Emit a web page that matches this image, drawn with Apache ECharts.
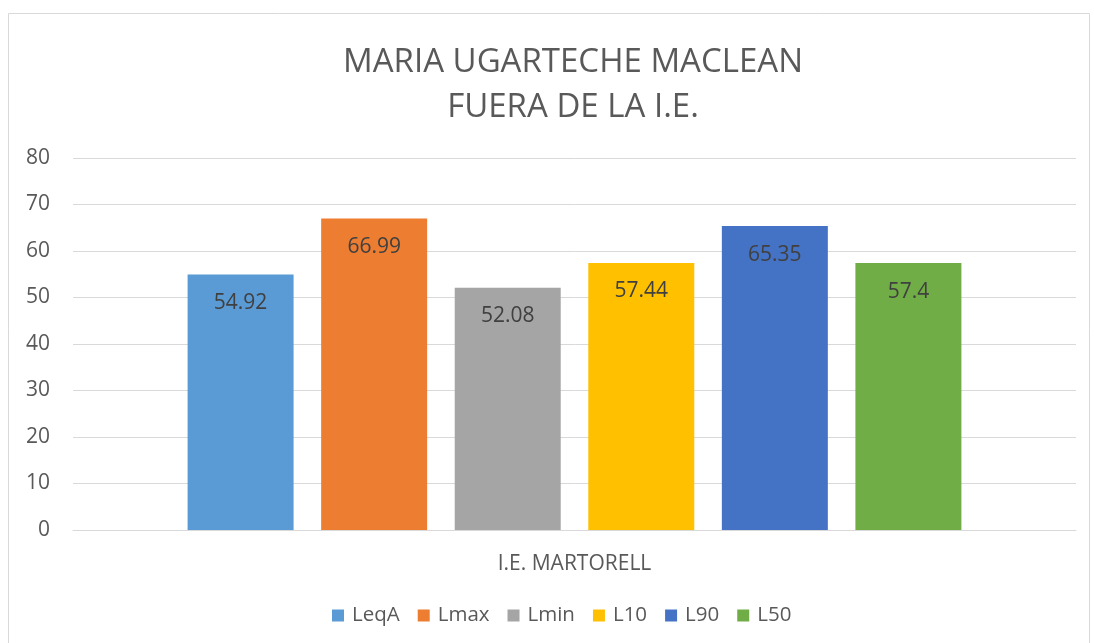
<!DOCTYPE html>
<html>
<head>
<meta charset="utf-8">
<script src="https://cdn.jsdelivr.net/npm/echarts@6/dist/echarts.min.js"></script>
<style>
  html, body { margin: 0; padding: 0; background: #fff; }
  #chart { width: 1094px; height: 643px; }
</style>
</head>
<body>
<div id="chart"></div>
<script>
const categories = ['I.E. MARTORELL']
const seriesNames = ['LeqA', 'Lmax', 'Lmin', 'L10', 'L90', 'L50']
const seriesValues = [54.92, 66.99, 52.08, 57.44, 65.35, 57.4]
const colors = ['#5B9BD5', '#ED7D31', '#A5A5A5', '#FFC000', '#4472C4', '#70AD47']
const yTicks = { min: 0, max: 80, interval: 10 }

const font = '"Open Sans", sans-serif'
const chart = echarts.init(document.getElementById('chart'))

let series = seriesNames.map(function (name, i) {
    return {
        name: name,
        type: 'bar',
        data: [seriesValues[i]],
        barWidth: 106,
        barGap: '26%',
        itemStyle: { color: colors[i] },
        label: {
            show: true,
            position: 'insideTop',
            distance: 18,
            color: '#404040',
            fontSize: 21,
            fontFamily: font
        }
    }
})

let option = {
    animation: false,
    title: {
        text: 'MARIA UGARTECHE MACLEAN\nFUERA DE LA I.E.',
        left: 568,
        textAlign: 'center',
        top: 35,
        textStyle: {
            color: '#595959',
            fontSize: 33,
            fontWeight: 'normal',
            fontFamily: font,
            lineHeight: 45
        }
    },
    graphic: [{
        type: 'rect',
        shape: { x: 8.5, y: 13.5, width: 1081, height: 640 },
        style: { fill: 'none', stroke: '#d9d9d9', lineWidth: 1 },
        silent: true
    }],
    legend: {
        bottom: 12,
        left: 327,
        itemWidth: 12,
        itemHeight: 12,
        itemGap: 18,
        icon: 'rect',
        textStyle: { color: '#595959', fontSize: 20.5, fontFamily: font, padding: [0, 0, 0, 3] },
        data: seriesNames
    },
    grid: { left: 73, right: 18, top: 158, bottom: 113 },
    xAxis: {
        type: 'category',
        data: categories,
        axisLine: { lineStyle: { color: '#d9d9d9' } },
        axisTick: { show: false },
        axisLabel: { color: '#595959', fontSize: 21, fontFamily: font, margin: 24 }
    },
    yAxis: {
        type: 'value',
        min: yTicks.min,
        max: yTicks.max,
        interval: yTicks.interval,
        axisLine: { show: false },
        axisTick: { show: false },
        splitLine: { lineStyle: { color: '#d9d9d9' } },
        axisLabel: { color: '#595959', fontSize: 21, fontFamily: font, margin: 23 }
    },
    series: series
}
chart.setOption(option)
</script>
</body>
</html>
